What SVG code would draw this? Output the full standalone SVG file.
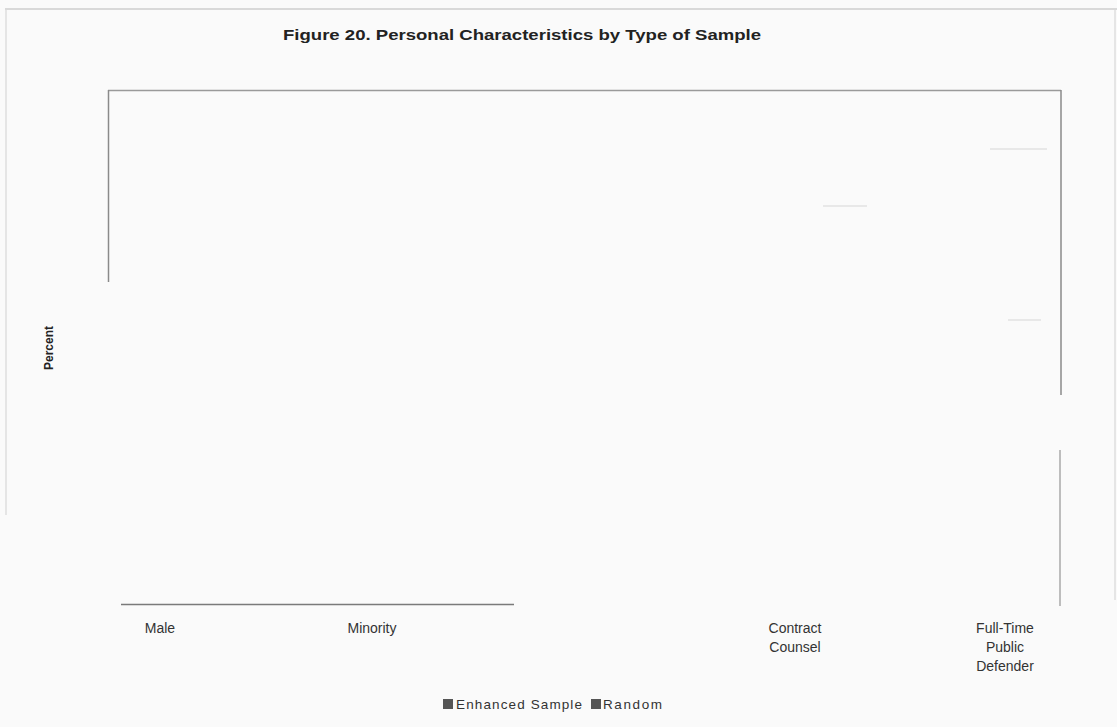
<svg xmlns="http://www.w3.org/2000/svg" width="1117" height="727" viewBox="0 0 1117 727">
<style>
.t{font-family:"Liberation Sans",Arial,sans-serif;fill:#333}
.lbl{font-size:14px;text-anchor:middle}
.fr{stroke:#8a8a8a;stroke-width:1.5;fill:none}
.faint{stroke:#d0d0d0;stroke-width:1;fill:none}
.dash{stroke:#d6d6d6;stroke-width:1;fill:none}
</style>
<rect width="1117" height="727" fill="#fafafa"/>
<g id="page-border">
<line class="faint" x1="5" y1="9" x2="1117" y2="9" style="stroke:#b8b8b8"/>
<line class="faint" x1="6" y1="10" x2="6" y2="515"/>
<line class="faint" x1="1115" y1="10" x2="1115" y2="600"/>
</g>
<g id="title">
<text class="t" x="522" y="40" font-size="15" font-weight="bold" text-anchor="middle" textLength="478" lengthAdjust="spacingAndGlyphs" style="fill:#222">Figure 20.  Personal Characteristics by Type of Sample</text>
</g>
<g id="plot-frame">
<line class="fr" x1="108" y1="90.5" x2="1061" y2="90.5" style="stroke:#9a9a9a"/>
<line class="fr" x1="108.5" y1="90" x2="108.5" y2="282"/>
<line class="fr" x1="1061" y1="90" x2="1061" y2="395"/>
<line class="fr" x1="1060" y1="450" x2="1060" y2="606" style="stroke:#a8a8a8"/>
<line class="fr" x1="121" y1="604.5" x2="514" y2="604.5" style="stroke:#7a7a7a"/>
<line class="dash" x1="990" y1="149" x2="1047" y2="149"/>
<line class="dash" x1="823" y1="206" x2="867" y2="206"/>
<line class="dash" x1="1008" y1="320" x2="1041" y2="320"/>
</g>
<g id="y-axis-label">
<text class="t" x="50" y="348" font-size="12" font-weight="bold" text-anchor="middle" dominant-baseline="middle" transform="rotate(-90 50 348)" style="fill:#222">Percent</text>
</g>
<g id="cat-male"><text class="t lbl" x="160" y="633">Male</text></g>
<g id="cat-minority"><text class="t lbl" x="372" y="633">Minority</text></g>
<g id="cat-contract"><text class="t lbl" x="795" y="633">Contract</text><text class="t lbl" x="795" y="652">Counsel</text></g>
<g id="cat-fulltime"><text class="t lbl" x="1005" y="633">Full-Time</text><text class="t lbl" x="1005" y="652">Public</text><text class="t lbl" x="1005" y="671">Defender</text></g>
<g id="legend">
<rect x="443" y="699" width="10" height="10" fill="#555"/>
<text class="t" x="456" y="709" font-size="13.5" textLength="126" lengthAdjust="spacing">Enhanced Sample</text>
<rect x="591" y="699" width="10" height="10" fill="#555"/>
<text class="t" x="603" y="709" font-size="13.5" textLength="59" lengthAdjust="spacing">Random</text>
</g>
</svg>
